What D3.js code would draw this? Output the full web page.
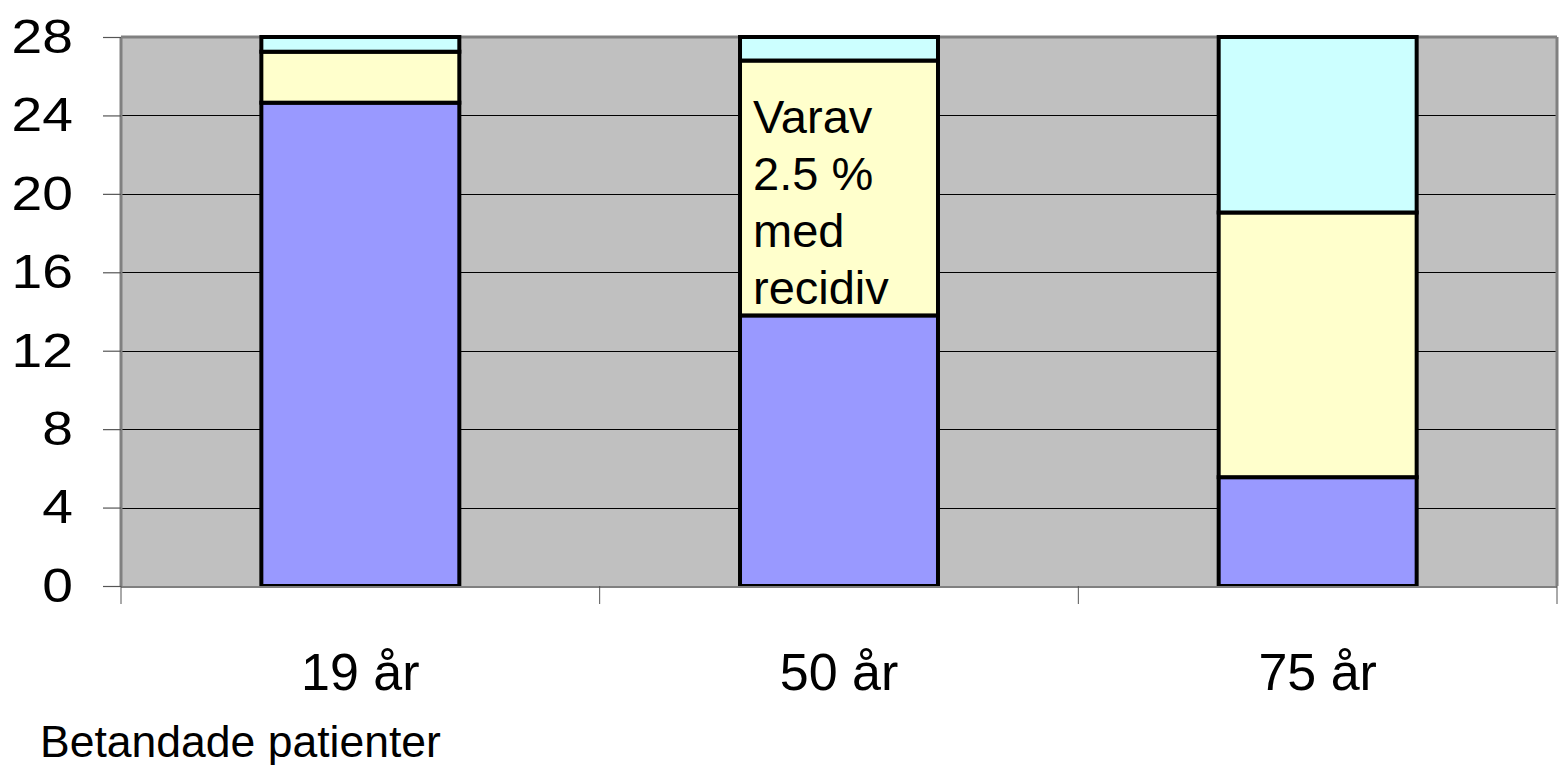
<!DOCTYPE html>
<html>
<head>
<meta charset="utf-8">
<script src="https://cdn.jsdelivr.net/npm/d3@7"></script>
<style>
  body { margin: 0; background: #fff; }
  svg text { font-family: "Liberation Sans", Arial, sans-serif; fill: #000; }
</style>
</head>
<body>
<script>
'use strict';

// chart data
let categories = ["19 år", "50 år", "75 år"];
let seriesNames = ["blue", "yellow", "cyan"];
let blueValues = [24.65, 13.8, 5.55];
let yellowValues = [2.6, 13.0, 13.5];
let cyanValues = [0.75, 1.2, 8.95];
let yTicks = [0, 4, 8, 12, 16, 20, 24, 28];
let noteLines = ["Varav", "2.5 %", "med", "recidiv"];
let footer = "Betandade patienter";

let colors = { blue: "#9999FF", yellow: "#FFFFCC", cyan: "#CCFFFF" };

let width = 1559, height = 765;
let plot = { left: 121, right: 1557, top: 37, bottom: 586 };

let svg = d3.select("body").append("svg")
  .attr("width", width)
  .attr("height", height);

// build stacked table from the arrays
let table = categories.map((c, i) => ({
  cat: c, blue: blueValues[i], yellow: yellowValues[i], cyan: cyanValues[i]
}));
let stacked = d3.stack().keys(seriesNames)(table);

let pad = 0.5864;
let x = d3.scaleBand()
  .domain(categories)
  .range([plot.left, plot.right])
  .paddingInner(pad)
  .paddingOuter(pad / 2);

let y = d3.scaleLinear()
  .domain([0, 28])
  .range([plot.bottom, plot.top]);

// plot background
svg.append("rect")
  .attr("x", plot.left)
  .attr("y", plot.top)
  .attr("width", plot.right - plot.left)
  .attr("height", plot.bottom - plot.top)
  .attr("fill", "#C0C0C0");

// gridlines
svg.append("g")
  .selectAll("line")
  .data(yTicks.filter(d => d > 0 && d < 28))
  .enter()
  .append("line")
    .attr("x1", plot.left)
    .attr("x2", plot.right)
    .attr("y1", d => Math.round(y(d)) + 0.5)
    .attr("y2", d => Math.round(y(d)) + 0.5)
    .attr("stroke", "#000")
    .attr("stroke-width", 1.2);

// frame: gray top / right / left edges
svg.append("line")
  .attr("x1", plot.left).attr("x2", plot.right)
  .attr("y1", plot.top).attr("y2", plot.top)
  .attr("stroke", "#808080").attr("stroke-width", 3);
svg.append("line")
  .attr("x1", plot.right).attr("x2", plot.right)
  .attr("y1", plot.top).attr("y2", plot.bottom)
  .attr("stroke", "#808080").attr("stroke-width", 3);
svg.append("line")
  .attr("x1", plot.left).attr("x2", plot.left)
  .attr("y1", plot.top).attr("y2", plot.bottom)
  .attr("stroke", "#808080").attr("stroke-width", 3);

// stacked bars
svg.append("g")
  .selectAll("g")
  .data(stacked)
  .enter()
  .append("g")
    .attr("fill", d => colors[d.key])
  .selectAll("rect")
  .data(d => d)
  .enter()
  .append("rect")
    .attr("x", d => x(d.data.cat))
    .attr("y", d => y(d[1]))
    .attr("width", x.bandwidth())
    .attr("height", d => y(d[0]) - y(d[1]))
    .attr("stroke", "#000")
    .attr("stroke-width", 4);

// bottom axis line + category separators
svg.append("line")
  .attr("x1", plot.left).attr("x2", plot.right)
  .attr("y1", plot.bottom + 1).attr("y2", plot.bottom + 1)
  .attr("stroke", "#808080").attr("stroke-width", 2);

let step = x.step();
let edges = categories.map(c => x(c) - step * pad / 2).concat([plot.right]);
svg.append("g")
  .selectAll("line")
  .data(edges)
  .enter()
  .append("line")
    .attr("x1", d => d).attr("x2", d => d)
    .attr("y1", plot.bottom).attr("y2", plot.bottom + 18)
    .attr("stroke", "#555").attr("stroke-width", 1);

// y axis
let stretch = 1.15; // tick labels in the original are a bit wide
let yAxis = d3.axisLeft(y)
  .tickValues(yTicks)
  .tickSize(18)
  .tickPadding(30);
let yg = svg.append("g")
  .attr("transform", `translate(${plot.left}, 0)`)
  .call(yAxis);
yg.select(".domain").remove();
yg.selectAll(".tick line").attr("stroke", "#555").attr("stroke-width", 1.2);
yg.selectAll(".tick text")
  .style("font-size", "48px")
  .attr("fill", "#000")
  .attr("x", -48 / stretch)
  .attr("transform", `scale(${stretch},1)`);

// category labels
svg.append("g")
  .selectAll("text")
  .data(categories)
  .enter()
  .append("text")
    .attr("x", d => x(d) + x.bandwidth() / 2)
    .attr("y", 690)
    .attr("text-anchor", "middle")
    .style("font-size", "52px")
    .text(d => d);

// note inside the 50 år yellow segment
let noteCat = categories[1];
let note = svg.append("text")
  .attr("x", x(noteCat) + 13)
  .attr("y", y(blueValues[1] + yellowValues[1]) + 72)
  .style("font-size", "47px");
note.selectAll("tspan")
  .data(noteLines)
  .enter()
  .append("tspan")
    .attr("x", x(noteCat) + 13)
    .attr("dy", (d, i) => i === 0 ? 0 : 57)
    .text(d => d);

// footer
svg.append("text")
  .attr("x", 40)
  .attr("y", 757)
  .style("font-size", "44.5px")
  .text(footer);
</script>
</body>
</html>
